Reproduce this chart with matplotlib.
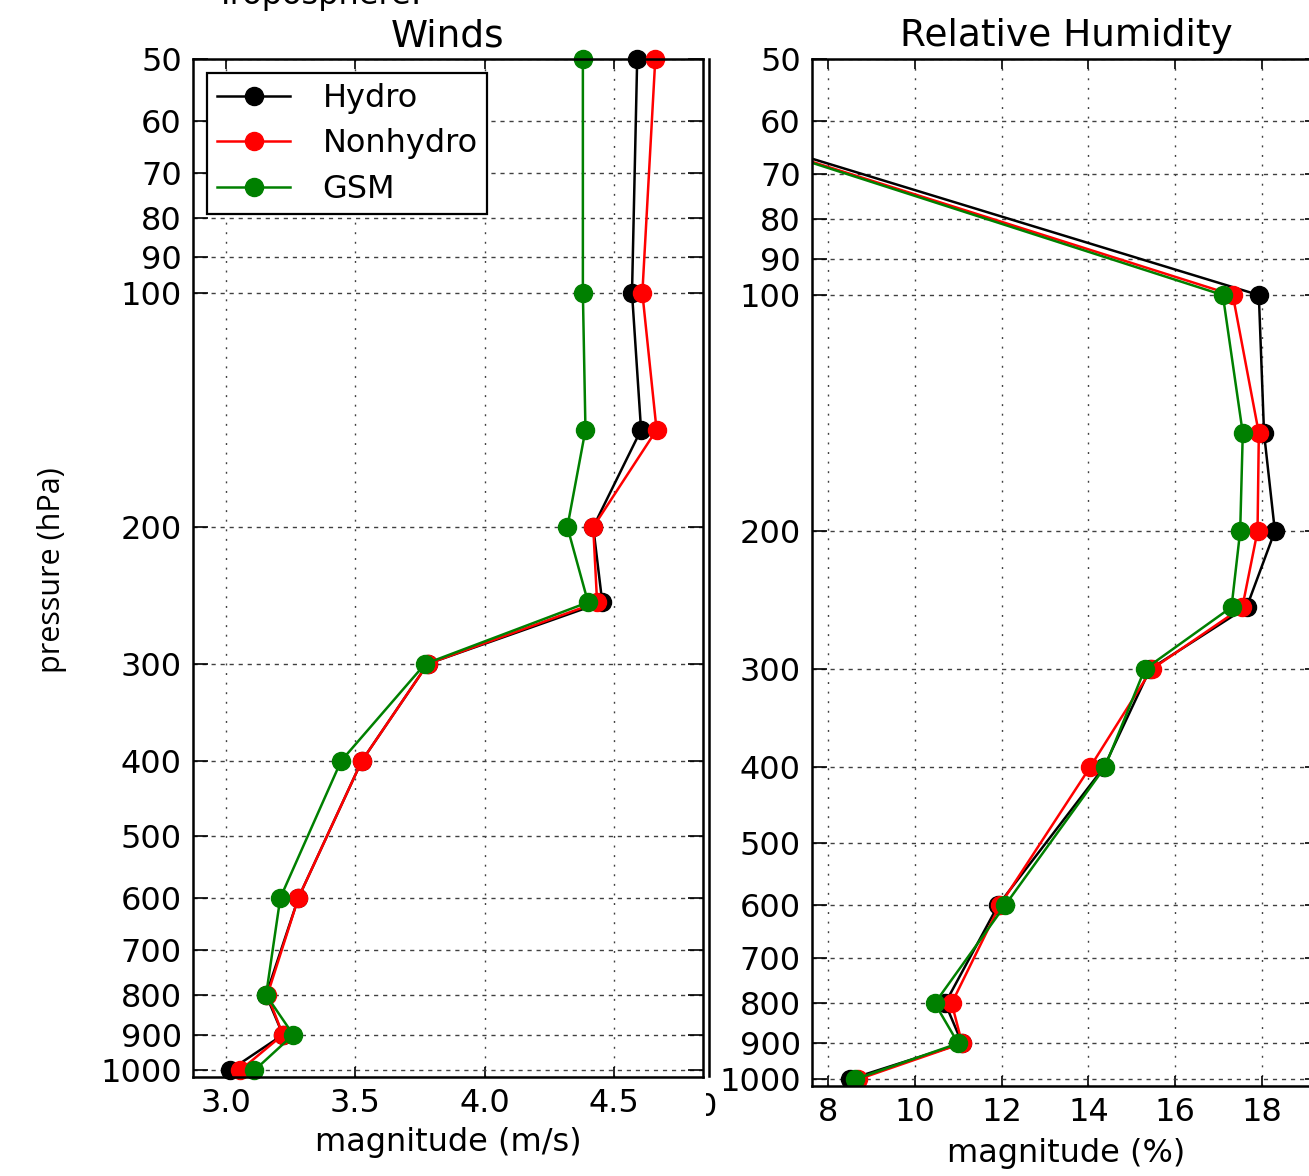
import matplotlib
matplotlib.use("Agg")
import matplotlib.pyplot as plt
from matplotlib.ticker import FixedLocator, NullLocator, FixedFormatter, MultipleLocator
from matplotlib.lines import Line2D
from matplotlib.transforms import Bbox, TransformedBbox

plt.rcParams['font.family'] = ['DejaVu Sans']
plt.rcParams['font.size'] = 23

# ---------------- data ----------------
pressure = [50, 100, 150, 200, 250, 300, 400, 600, 800, 900, 1000]

wind_hydro = [4.59, 4.57, 4.605, 4.42, 4.455, 3.78, 3.525, 3.28, 3.155, 3.22, 3.015]
wind_nonhydro = [4.66, 4.61, 4.665, 4.42, 4.435, 3.78, 3.525, 3.28, 3.16, 3.22, 3.055]
wind_gsm = [4.38, 4.38, 4.39, 4.32, 4.40, 3.77, 3.445, 3.21, 3.155, 3.26, 3.11]

rh_hydro = [0.1, 17.93, 18.05, 18.3, 17.65, 15.42, 14.36, 11.92, 10.7, 11.09, 8.5]
rh_nonhydro = [0.15, 17.33, 17.93, 17.9, 17.55, 15.46, 14.04, 11.96, 10.85, 11.09, 8.7]
rh_gsm = [0.2, 17.1, 17.56, 17.5, 17.3, 15.3, 14.38, 12.08, 10.46, 11.0, 8.62]

series_names = ["Hydro", "Nonhydro", "GSM"]
series_colors = ["black", "red", "green"]

p_ticks = [50, 60, 70, 80, 90, 100, 200, 300, 400, 500, 600, 700, 800, 900, 1000]
p_ticklabels = [str(p) for p in p_ticks]
wind_ticks = [3.0, 3.5, 4.0, 4.5]
wind_ticklabels = ["3.0", "3.5", "4.0", "4.5"]

W, H = 1309, 1176
fig = plt.figure(figsize=(W / 100, H / 100), dpi=100)
fig.patch.set_facecolor("white")


def frac_rect(l, t, r, b):
    return [l / W, 1 - b / H, (r - l) / W, (b - t) / H]


def style_axes(ax):
    ax.set_yscale("log")
    ax.set_ylim(1020, 50)
    ax.yaxis.set_major_locator(FixedLocator(p_ticks))
    ax.yaxis.set_major_formatter(FixedFormatter(p_ticklabels))
    ax.yaxis.set_minor_locator(NullLocator())
    for s in ax.spines.values():
        s.set_linewidth(1.8)
        s.set_color("black")
    ax.tick_params(axis="y", which="major", direction="in", length=11, width=1.2,
                   left=True, right=True, pad=8, labelsize=23, colors="black")
    ax.tick_params(axis="x", which="major", direction="in", length=7, width=1.2,
                   top=True, bottom=True, pad=8, labelsize=23, colors="black")
    ax.yaxis.grid(True, color="0.25", linewidth=1.0, linestyle=(0, (3, 3.5)))
    ax.xaxis.grid(True, color="0.25", linewidth=1.0, linestyle=(0, (1.4, 5.5)))
    ax.set_axisbelow(True)


# ---------------- Winds ----------------
ax1 = fig.add_axes(frac_rect(193, 59, 703, 1077))
style_axes(ax1)
for vals, name, col in zip([wind_hydro, wind_nonhydro, wind_gsm], series_names, series_colors):
    ax1.plot(vals, pressure, color=col, marker="o", markersize=13, markeredgecolor=col,
             linewidth=1.8, label=name, clip_on=False)
ax1.set_xlim(2.8724, 4.8445)
ax1.set_ylim(1020, 50)
ax1.xaxis.set_major_locator(FixedLocator(wind_ticks))
ax1.xaxis.set_major_formatter(FixedFormatter(wind_ticklabels))
ax1.set_title("Winds", fontsize=27, pad=9)
ax1.set_xlabel("magnitude (m/s)", fontsize=23, labelpad=6)
leg = ax1.legend(loc="upper left", numpoints=1, fontsize=23, fancybox=False,
                 handlelength=2.3, handletextpad=1.0, labelspacing=0.45,
                 borderpad=0.3, borderaxespad=0.45, framealpha=1)
leg.get_frame().set_edgecolor("black")
leg.get_frame().set_linewidth(1.6)

# ---------------- Relative Humidity ----------------
ax2 = fig.add_axes(frac_rect(812, 59, 1320, 1086))
style_axes(ax2)
for vals, name, col in zip([rh_hydro, rh_nonhydro, rh_gsm], series_names, series_colors):
    ax2.plot(vals, pressure, color=col, marker="o", markersize=13, markeredgecolor=col,
             linewidth=1.8, label=name)
ax2.set_xlim(7.63, 19.34)
ax2.set_ylim(1020, 50)
ax2.xaxis.set_major_locator(MultipleLocator(2))
ax2.set_title("Relative Humidity", fontsize=27, pad=9)
ax2.set_xlabel("magnitude (%)", fontsize=23, labelpad=7)

# second vertical frame line just right of the Winds panel
fig.add_artist(Line2D([709 / W, 709 / W], [1 - 59 / H, 1 - 1076 / H],
                      transform=fig.transFigure, color="black", linewidth=1.8))

# partially hidden tick label
t0 = fig.text(707 / W, 1 - 1108 / H, "0", ha="center", va="center", fontsize=23)
t0.set_clip_box(TransformedBbox(Bbox.from_extents(706 / W, 0, 1, 1), fig.transFigure))
t0.set_clip_on(True)

# cut-off figure title and y label
fig.text(215 / W, 1 - 4 / H, "Troposphere:", ha="left", va="baseline", fontsize=23)
fig.text(52 / W, 1 - 570 / H, "pressure (hPa)", rotation=90, ha="center", va="center",
         fontsize=22, family=["Open Sans", "DejaVu Sans"])

fig.savefig("out.png", dpi=100)
